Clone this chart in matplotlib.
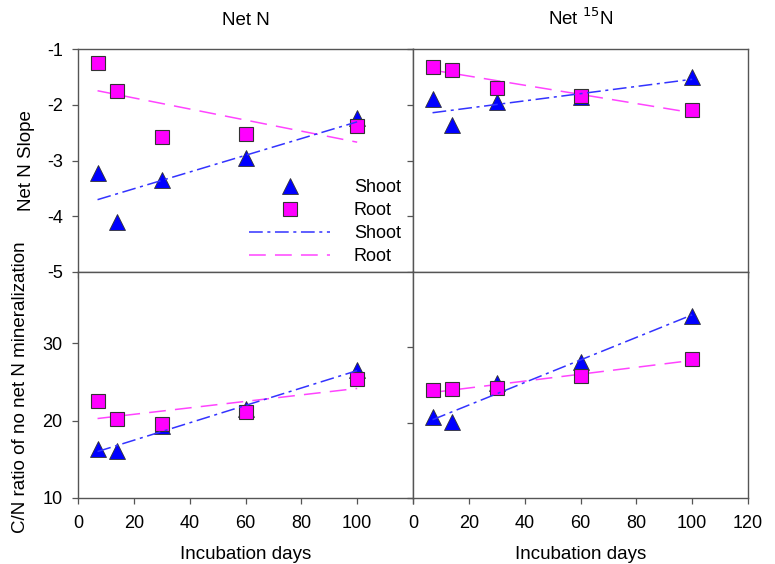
import numpy as np
import matplotlib
matplotlib.use("Agg")
import matplotlib.pyplot as plt
from matplotlib.lines import Line2D

plt.rcParams['font.family'] = ['Liberation Sans', 'DejaVu Sans']
plt.rcParams['axes.unicode_minus'] = False

days = [7, 14, 30, 60, 100]

# Net N slope
slope_netN_shoot = [-3.22, -4.10, -3.35, -2.96, -2.24]
slope_netN_root = [-1.26, -1.75, -2.57, -2.52, -2.39]
# Net 15N slope
slope_15N_shoot = [-1.90, -2.37, -1.95, -1.86, -1.50]
slope_15N_root = [-1.32, -1.38, -1.70, -1.84, -2.10]
# C/N ratio of no net N mineralization
cn_netN_shoot = [16.3, 16.1, 19.3, 21.5, 26.6]
cn_netN_root = [22.5, 20.2, 19.5, 21.1, 25.4]
cn_15N_shoot = [20.7, 20.1, 25.2, 28.1, 34.2]
cn_15N_root = [24.3, 24.5, 24.6, 26.2, 28.5]

col_titles = ["Net N", "Net $^{15}$N"]
xticks = [0, 20, 40, 60, 80, 100, 120]
xticklabels_left = ["0", "20", "40", "60", "80", "100", ""]
xticklabels_right = ["0", "20", "40", "60", "80", "100", "120"]
top_yticks = [-5, -4, -3, -2, -1]
bot_yticks = [10, 20, 30]

W, H = 775, 564
fig = plt.figure(figsize=(W / 100, H / 100), dpi=100)

def fx(px):
    return px / W

def fy(py):
    return 1 - py / H

x0, xm, x1 = 78, 413, 748
y0, ym, y1 = 49, 272, 498

ax_tl = fig.add_axes([fx(x0), fy(ym), fx(xm) - fx(x0), fy(y0) - fy(ym)])
ax_tr = fig.add_axes([fx(xm), fy(ym), fx(x1) - fx(xm), fy(y0) - fy(ym)])
ax_bl = fig.add_axes([fx(x0), fy(y1), fx(xm) - fx(x0), fy(ym) - fy(y1)])
ax_br = fig.add_axes([fx(xm), fy(y1), fx(x1) - fx(xm), fy(ym) - fy(y1)])

blue = '#0000ff'
mag = '#ff00ff'
line_blue = '#3333ff'
line_mag = '#ff44ff'
edge = '#333333'
spine_c = '#555555'
FS = 13
LFS = 13.5
TRI_MS = 11
SQ_MS = 10

def draw(ax, shoot, root):
    x = np.array(days, dtype=float)
    ax.plot(days, shoot, linestyle='none', marker='^', ms=TRI_MS, mfc=blue,
            mec=edge, mew=0.6, zorder=3)
    ax.plot(days, root, linestyle='none', marker='s', ms=SQ_MS, mfc=mag,
            mec=edge, mew=0.8, zorder=4)
    ps = np.polyfit(x, shoot, 1)
    pr = np.polyfit(x, root, 1)
    xx = np.array([days[0], days[-1]], dtype=float)
    ax.plot(xx, np.polyval(ps, xx), color=line_blue, lw=1.1,
            dashes=[9, 3, 2, 3], zorder=5)
    ax.plot(xx, np.polyval(pr, xx), color=line_mag, lw=1.1,
            dashes=[11, 6], zorder=2)
    ax.set_xlim(0, 120)
    ax.set_xticks(xticks)
    for s in ax.spines.values():
        s.set_color(spine_c)
        s.set_linewidth(1.0)
    ax.tick_params(direction='out', length=4, width=0.9, color=spine_c,
                   labelsize=FS, pad=7)

draw(ax_tl, slope_netN_shoot, slope_netN_root)
draw(ax_tr, slope_15N_shoot, slope_15N_root)
draw(ax_bl, cn_netN_shoot, cn_netN_root)
draw(ax_br, cn_15N_shoot, cn_15N_root)

for ax in (ax_tl, ax_tr):
    ax.set_ylim(-5, -1)
    ax.set_yticks(top_yticks)
    ax.tick_params(axis='x', labelbottom=False)
ax_bl.set_ylim(10, 39.2)
ax_br.set_ylim(10, 40)
for ax in (ax_bl, ax_br):
    ax.set_yticks(bot_yticks)
for ax in (ax_tr, ax_br):
    ax.tick_params(axis='y', labelleft=False)
ax_bl.set_xticklabels(xticklabels_left)
ax_br.set_xticklabels(xticklabels_right)
ax_bl.tick_params(axis='x', pad=8)
ax_br.tick_params(axis='x', pad=8)

ax_tl.set_title(col_titles[0], fontsize=LFS, pad=17)
ax_tr.set_title(col_titles[1], fontsize=LFS, pad=17)

ax_bl.set_xlabel("Incubation days", fontsize=LFS, labelpad=10)
ax_br.set_xlabel("Incubation days", fontsize=LFS, labelpad=10)

fig.text(fx(27), fy(161), "Net N Slope", rotation=90, fontsize=LFS,
         ha='center', va='center')
fig.text(fx(21), fy(387), "C/N ratio of no net N mineralization", rotation=90,
         fontsize=LFS, ha='center', va='center')

handles = [
    Line2D([], [], linestyle='none', marker='^', ms=TRI_MS, mfc=blue, mec=edge, mew=0.6),
    Line2D([], [], linestyle='none', marker='s', ms=SQ_MS, mfc=mag, mec=edge, mew=0.8),
    Line2D([], [], color=line_blue, lw=1.1, dashes=[9, 3, 2, 3]),
    Line2D([], [], color=line_mag, lw=1.1, dashes=[11, 6]),
]
labels = ["Shoot", "Root", "Shoot", "Root"]
ax_tl.legend(handles, labels, loc='upper left',
             bbox_to_anchor=(fx(249), fy(179)), bbox_transform=fig.transFigure,
             frameon=False, fontsize=FS, handlelength=4.5, handletextpad=1.3,
             labelspacing=0.33, borderpad=0, borderaxespad=0)

fig.savefig("out.png", dpi=100)
